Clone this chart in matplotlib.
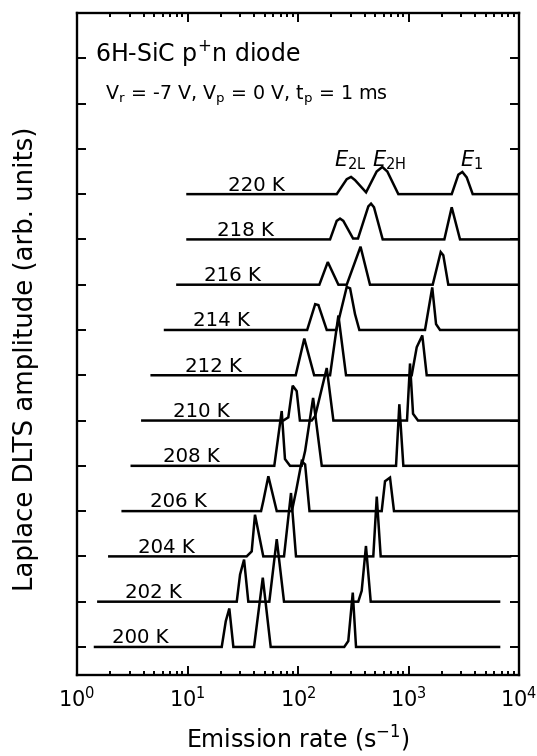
import numpy as np
import matplotlib.pyplot as plt

plt.rc('font', family='DejaVu Sans')
plt.rc('mathtext', default='regular')

temps = [200, 202, 204, 206, 208, 210, 212, 214, 216, 218, 220]

# emission rate (s^-1) and amplitude (arb. units) of each spectrum vertex
rate_200 = [1.455, 20.4, 22.2, 23.9, 26.0, 40.0, 48.0, 56.6, 262, 285, 313, 335, 6600]
amp_200 = [0, 0, 0.57, 0.85, 0, 0, 1.53, 0, 0, 0.13, 1.20, 0, 0]

rate_202 = [1.56, 27.9, 29.9, 32.5, 35.5, 55.0, 64.2, 74.7, 351, 377, 412, 455, 6600]
amp_202 = [0, 0, 0.60, 0.93, 0, 0, 1.38, 0, 0, 0.24, 1.23, 0, 0]

rate_204 = [1.96, 34.3, 38.1, 40.8, 48.5, 74.7, 86.4, 95.9, 480, 516, 560, 8300]
amp_204 = [0, 0, 0.11, 0.92, 0, 0, 1.40, 0, 0, 1.32, 0, 0]

rate_206 = [2.59, 46.3, 48.5, 53.9, 64.2, 88.0, 96.0, 108, 116, 127, 572, 613, 680, 739, 1e4]
amp_206 = [0, 0, 0.22, 0.77, 0, 0, 0.44, 1.10, 1.03, 0, 0, 0.66, 0.74, 0, 0]

rate_208 = [3.13, 61.0, 71.2, 76.2, 84.7, 108, 116, 137, 164, 771, 826, 898, 1e4]
amp_208 = [0, 0, 1.21, 0.15, 0, 0, 0.33, 1.50, 0, 0, 1.36, 0, 0]

rate_210 = [3.90, 73.6, 81.7, 89.5, 97.3, 104, 133, 143, 182, 209, 969, 1032, 1099, 1219, 1e4]
amp_210 = [0, 0, 0.07, 0.77, 0.65, 0, 0, 0.10, 1.16, 0, 0, 1.26, 0.15, 0, 0]

rate_212 = [4.74, 95.3, 114, 140, 195, 232, 272, 1069, 1187, 1333, 1461, 1e4]
amp_212 = [0, 0, 0.81, 0, 0, 1.32, 0, 0, 0.62, 0.88, 0, 0]

rate_214 = [6.26, 121, 143, 153, 182, 222, 276, 296, 328, 359, 1410, 1640, 1775, 1928, 1e4]
amp_214 = [0, 0, 0.57, 0.55, 0, 0, 0.95, 0.92, 0.35, 0, 0, 0.94, 0.13, 0, 0]

rate_216 = [8.1, 156, 186, 232, 276, 368, 448, 1656, 1956, 2065, 2291, 1e4]
amp_216 = [0, 0, 0.50, 0, 0, 0.84, 0, 0, 0.72, 0.65, 0, 0]

rate_218 = [10, 195, 224, 240, 257, 315, 349, 433, 458, 487, 584, 2110, 2460, 2925, 1e4]
amp_218 = [0, 0, 0.41, 0.46, 0.41, 0.02, 0.02, 0.73, 0.79, 0.71, 0, 0, 0.71, 0, 0]

rate_220 = [10, 224, 276, 302, 328, 413, 515, 579, 643, 809, 2460, 2825, 3070, 3363, 3810, 1e4]
amp_220 = [0, 0, 0.33, 0.38, 0.31, 0.04, 0.50, 0.60, 0.50, 0, 0, 0.43, 0.49, 0.37, 0, 0]

rates = [rate_200, rate_202, rate_204, rate_206, rate_208, rate_210,
         rate_212, rate_214, rate_216, rate_218, rate_220]
amps = [amp_200, amp_202, amp_204, amp_206, amp_208, amp_210,
        amp_212, amp_214, amp_216, amp_218, amp_220]

# left edge of the temperature labels (s^-1)
label_x = [2.07, 2.72, 3.56, 4.58, 6.0, 7.35, 9.5, 11.2, 14.1, 18.4, 23.3]

peak_names = [r'$\mathit{E}_{2L}$', r'$\mathit{E}_{2H}$', r'$\mathit{E}_{1}$']
peak_name_x = [212, 467, 2925]

fig = plt.figure(figsize=(5.37, 7.56), dpi=100)
ax = fig.add_axes([0.1434, 0.1071, 0.8231, 0.8757])

for i, T in enumerate(temps):
    y = np.array(amps[i]) + i
    ax.plot(rates[i], y, color='black', lw=1.8, solid_joinstyle='miter')
    ax.text(label_x[i], i + 0.08, '%d K' % T, fontsize=14.2, va='baseline', ha='left')

for name, x in zip(peak_names, peak_name_x):
    ax.text(x, 10.62, name, fontsize=15, va='baseline', ha='left')

ax.text(1.456, 12.94, r'6H-SiC p$^{+}$n diode', fontsize=17, va='baseline')
ax.text(1.79, 12.08, r'V$_{r}$ = -7 V, V$_{p}$ = 0 V, t$_{p}$ = 1 ms', fontsize=13.7, va='baseline')

ax.set_xscale('log')
ax.set_xlim(1, 1e4)
ax.set_ylim(-0.62, 14)
ax.set_yticks(range(0, 14))
ax.set_yticklabels([])

ax.tick_params(which='both', direction='in', top=True, right=True, width=1.4)
ax.tick_params(which='major', length=6.5, labelsize=15, pad=8)
ax.tick_params(which='minor', length=3)
for s in ax.spines.values():
    s.set_linewidth(1.7)

ax.set_xlabel(r'Emission rate (s$^{-1}$)', fontsize=17, labelpad=9)
ax.set_ylabel('Laplace DLTS amplitude (arb. units)', fontsize=18.7)
ax.yaxis.set_label_coords(-0.085, 0.477)

fig.savefig('out.png', dpi=100)
